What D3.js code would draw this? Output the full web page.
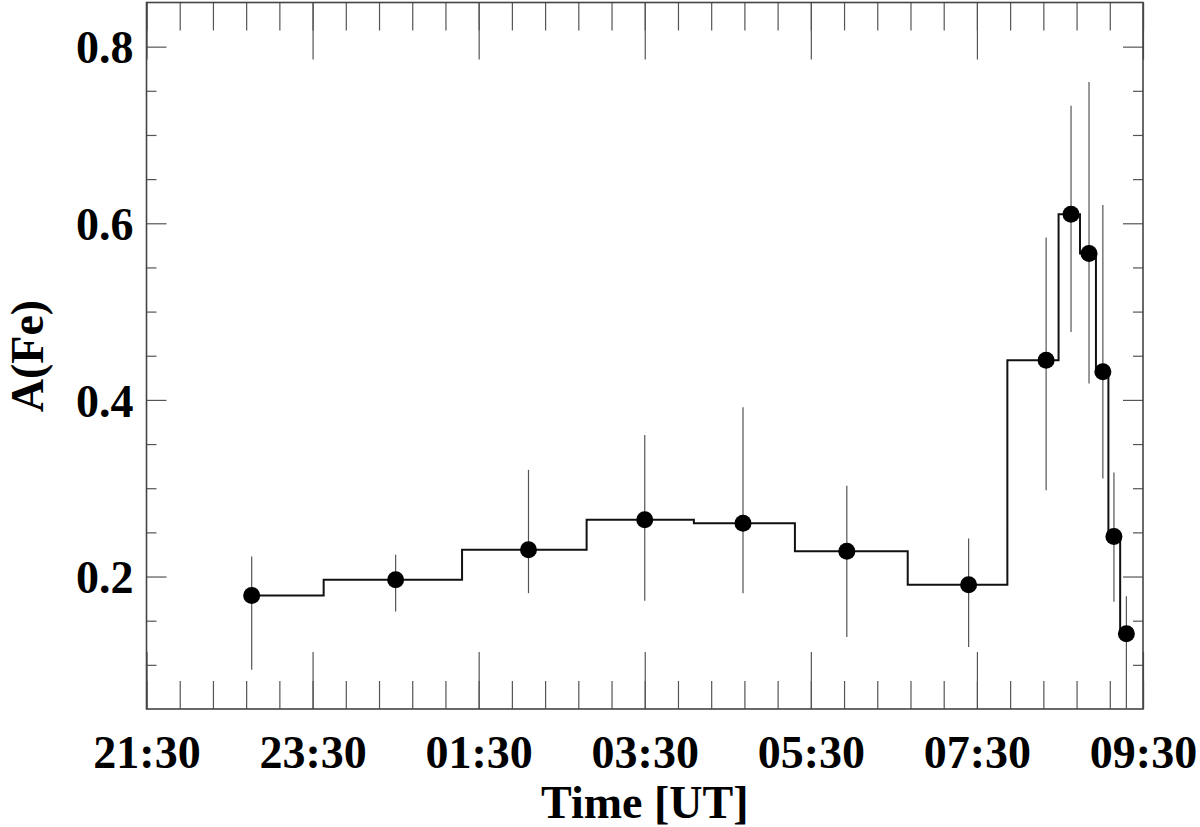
<!DOCTYPE html>
<html>
<head>
<meta charset="utf-8">
<script src="https://cdn.jsdelivr.net/npm/d3@7"></script>
<style>
  html, body { margin: 0; padding: 0; background: #fff; }
  svg { display: block; }
  text { font-family: "Liberation Serif", "Times New Roman", serif; font-weight: bold; fill: #000; }
</style>
</head>
<body>
<svg id="chart" width="1200" height="827"></svg>
<script>
// ---- data ----
const times  = ["22:46", "00:30", "02:06", "03:30", "04:41", "05:56", "07:24", "08:20", "08:38", "08:51", "09:01", "09:09", "09:18"];
const values = [0.1785, 0.1963, 0.2302, 0.2642, 0.2604, 0.2287, 0.1906, 0.4448, 0.6101, 0.5657, 0.4319, 0.2452, 0.1351];
const errHigh = [0.2226, 0.2246, 0.3208, 0.3604, 0.3917, 0.3027, 0.2430, 0.5839, 0.7330, 0.7600, 0.6206, 0.3177, 0.1778];
const errLow  = [0.0945, 0.1604, 0.1812, 0.1725, 0.1812, 0.1314, 0.1201, 0.2976, 0.4770, 0.4185, 0.3109, 0.1714, 0.0300];
const xTickLabels = ["21:30", "23:30", "01:30", "03:30", "05:30", "07:30", "09:30"];
const yTickLabels = ["0.2", "0.4", "0.6", "0.8"];
const yMinorValues = [0.1, 0.15, 0.25, 0.3, 0.35, 0.45, 0.5, 0.55, 0.65, 0.7, 0.75];
const xDomainLabels = ["21:30", "09:30"];
const yDomain = [0.05, 0.85];
const minorStepMinutes = 24;

// parse "HH:MM" into a UTC date; evening hours on day 1, morning on day 2
function parseT(s) {
  const [h, m] = s.split(":").map(Number);
  const day = h >= 12 ? 1 : 2;
  return new Date(Date.UTC(2000, 0, day, h, m));
}

const svg = d3.select("#chart");
const L = 146.5, R = 1143, T = 2.5, B = 709;

const x = d3.scaleUtc().domain(xDomainLabels.map(parseT)).range([L, R]);
const y = d3.scaleLinear().domain(yDomain).range([B, T]);

const fmt = d3.utcFormat("%H:%M");
const majorX = xTickLabels.map(parseT);
const [d0, d1] = x.domain();
const minorX = d3.range(+d0, +d1 + 1, minorStepMinutes * 60000).map(t => new Date(t));
const majorY = yTickLabels.map(Number);

const axisStroke = "#444";

function styleAxis(g) {
  g.select(".domain").remove();
  g.selectAll(".tick line").attr("stroke", "#555").attr("stroke-width", 1.2);
  g.selectAll("text").style("font-size", "46px").attr("fill", "#000");
}

// bottom minor + major
svg.append("g").attr("transform", `translate(0,${B})`)
  .call(d3.axisBottom(x).tickValues(minorX).tickSizeInner(-28).tickSizeOuter(0).tickFormat(""))
  .call(styleAxis);
svg.append("g").attr("transform", `translate(0,${B})`)
  .call(d3.axisBottom(x).tickValues(majorX).tickSizeInner(-57).tickSizeOuter(0).tickPadding(26).tickFormat(fmt))
  .call(styleAxis);
// top minor + major
svg.append("g").attr("transform", `translate(0,${T})`)
  .call(d3.axisTop(x).tickValues(minorX).tickSizeInner(-28).tickSizeOuter(0).tickFormat(""))
  .call(styleAxis);
svg.append("g").attr("transform", `translate(0,${T})`)
  .call(d3.axisTop(x).tickValues(majorX).tickSizeInner(-57).tickSizeOuter(0).tickFormat(""))
  .call(styleAxis);
// left
svg.append("g").attr("transform", `translate(${L},0)`)
  .call(d3.axisLeft(y).tickValues(yMinorValues).tickSizeInner(-10).tickSizeOuter(0).tickFormat(""))
  .call(styleAxis);
const yl = svg.append("g").attr("transform", `translate(${L},0)`)
  .call(d3.axisLeft(y).tickValues(majorY).tickSizeInner(-20).tickSizeOuter(0).tickPadding(13).tickFormat((d, i) => yTickLabels[i]))
  .call(styleAxis);
yl.selectAll("text").attr("dy", "0.35em");
// right
svg.append("g").attr("transform", `translate(${R},0)`)
  .call(d3.axisRight(y).tickValues(yMinorValues).tickSizeInner(-10).tickSizeOuter(0).tickFormat(""))
  .call(styleAxis);
svg.append("g").attr("transform", `translate(${R},0)`)
  .call(d3.axisRight(y).tickValues(majorY).tickSizeInner(-20).tickSizeOuter(0).tickFormat(""))
  .call(styleAxis);

// frame
svg.append("rect").attr("x", L).attr("y", T).attr("width", R - L).attr("height", B - T)
  .attr("fill", "none").attr("stroke", axisStroke).attr("stroke-width", 1.6);

// clip
svg.append("clipPath").attr("id", "plotclip")
  .append("rect").attr("x", L).attr("y", T).attr("width", R - L).attr("height", B - T);

const data = times.map((t, i) => ({ t: parseT(t), v: values[i], hi: errHigh[i], lo: errLow[i] }));
const plot = svg.append("g").attr("clip-path", "url(#plotclip)");

// error bars
plot.selectAll("line.err").data(data).join("line").attr("class", "err")
  .attr("x1", d => x(d.t)).attr("x2", d => x(d.t))
  .attr("y1", d => y(d.hi)).attr("y2", d => y(d.lo))
  .attr("stroke", "#555").attr("stroke-width", 1.2);

// step line
const line = d3.line().x(d => x(d.t)).y(d => y(d.v)).curve(d3.curveStep);
plot.append("path").datum(data).attr("d", line)
  .attr("fill", "none").attr("stroke", "#111").attr("stroke-width", 2);

// markers
plot.selectAll("circle").data(data).join("circle")
  .attr("cx", d => x(d.t)).attr("cy", d => y(d.v)).attr("r", 8.5).attr("fill", "#000");

// axis titles
svg.append("text").attr("x", (L + R) / 2).attr("y", 818).attr("text-anchor", "middle")
  .style("font-size", "46px").text("Time [UT]");
svg.append("text").attr("transform", "translate(43,356) rotate(-90)").attr("text-anchor", "middle")
  .style("font-size", "46px").text("A(Fe)");
</script>
</body>
</html>
